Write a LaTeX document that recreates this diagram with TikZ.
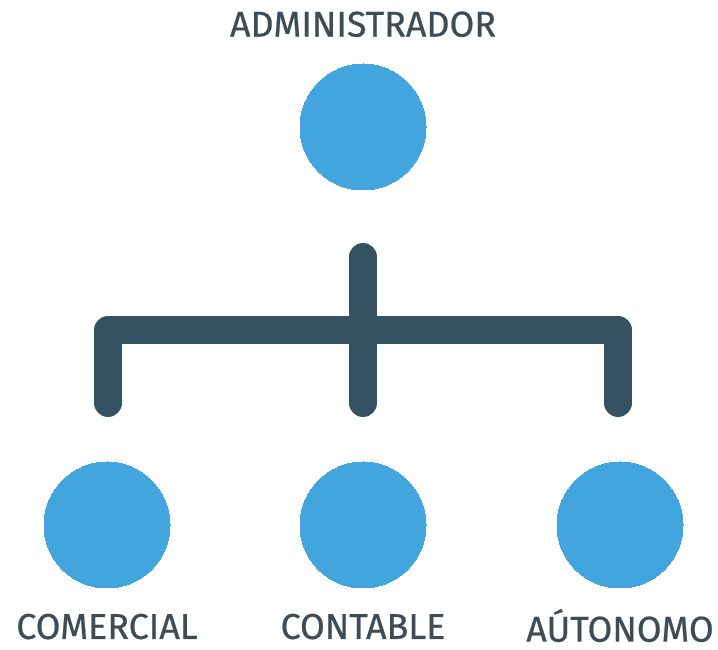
\documentclass[tikz,border=0pt]{standalone}
\usepackage{fontspec}
\setmainfont{Fira Sans}
\newfontfamily\labelfont{Fira Sans}[FakeBold=0.6]
\usepackage{tikz-network}
\definecolor{circblue}{RGB}{66,165,222}
\definecolor{barslate}{RGB}{52,82,98}
\definecolor{labelgray}{RGB}{62,76,86}
\tikzset{bracket/.style={line width=19.9pt, color=barslate, line cap=round, line join=round}}

\begin{document}
\begin{tikzpicture}
\SetVertexStyle[LineWidth=0pt, LineColor=circblue, FillColor=circblue]
\useasboundingbox (0,0) rectangle (17.95,16.25);
\Vertex[label=ADMINISTRADOR, x=9.075, y=13.075, size=3.15, color=circblue, position=above, distance=0.55cm, fontsize=\labelfont\fontsize{25.5}{30}\selectfont, fontcolor=labelgray]{admin}
\Vertex[label=COMERCIAL, x=2.675, y=3.125, size=3.15, color=circblue, position=below, distance=0.52cm, fontsize=\labelfont\fontsize{25.5}{30}\selectfont, fontcolor=labelgray]{comercial}
\Vertex[label=CONTABLE, x=9.075, y=3.125, size=3.15, color=circblue, position=below, distance=0.52cm, fontsize=\labelfont\fontsize{25.5}{30}\selectfont, fontcolor=labelgray]{contable}
\Vertex[label=AÚTONOMO, x=15.5, y=3.125, size=3.15, color=circblue, position=below, distance=0.4cm, fontsize=\labelfont\fontsize{25.5}{30}\selectfont, fontcolor=labelgray]{autonomo}
\coordinate (stemtop) at (9.075,9.825);
\coordinate (stembot) at (9.075,6.175);
\coordinate (lcorner) at (2.7,8.0);
\coordinate (lend) at (2.7,6.175);
\coordinate (rcorner) at (15.45,8.0);
\coordinate (rend) at (15.45,6.175);
\draw[bracket] (lend) -- (lcorner) -- (rcorner) -- (rend);
\draw[bracket] (stemtop) -- (stembot);
\end{tikzpicture}
\end{document}
